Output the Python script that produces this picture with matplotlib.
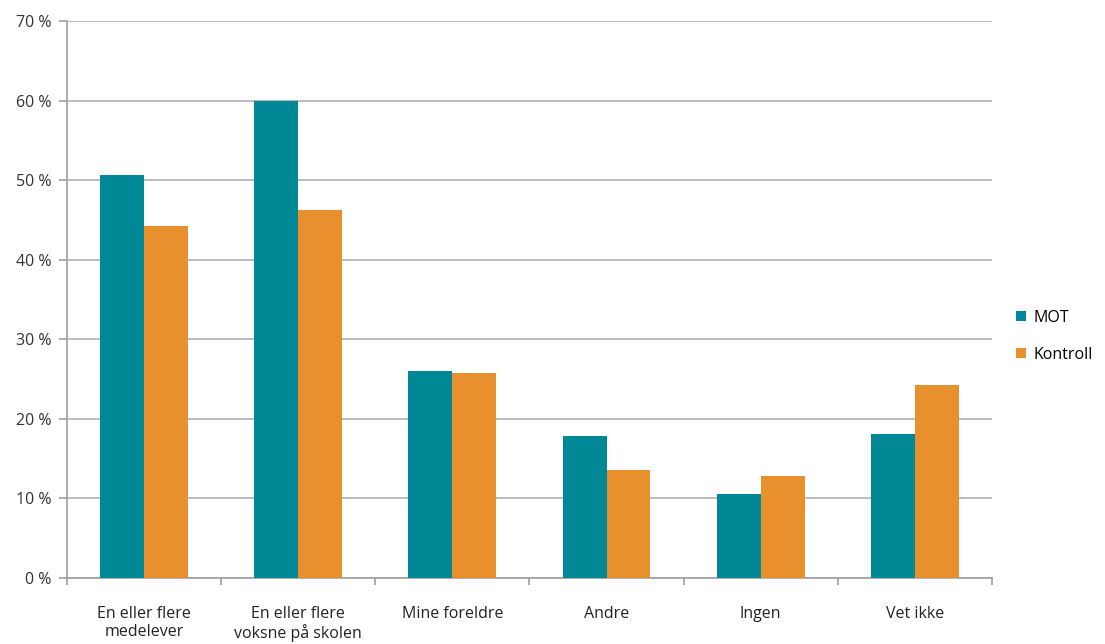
import matplotlib.pyplot as plt
import numpy as np
from matplotlib.ticker import FuncFormatter

categories = ['En eller flere\nmedelever', 'En eller flere\nvoksne på skolen',
              'Mine foreldre', 'Andre', 'Ingen', 'Vet ikke']
mot = [50.6, 60.0, 26.0, 17.8, 10.5, 18.1]
kontroll = [44.2, 46.2, 25.7, 13.6, 12.8, 24.2]

plt.rcParams['font.family'] = ['Open Sans', 'DejaVu Sans']

fig = plt.figure(figsize=(11.05, 6.44), dpi=100)
ax = fig.add_axes([0.0606, 0.1025, 0.8371, 0.8649])

x = np.arange(len(categories))
w = 0.285
ax.bar(x - w / 2, mot, w, color='#008896', label='MOT', zorder=3)
ax.bar(x + w / 2, kontroll, w, color='#E8902E', label='Kontroll', zorder=3)

ax.set_xlim(-0.5, len(categories) - 0.5)
ax.set_ylim(0, 70)
ax.set_yticks(np.arange(0, 71, 10))
ax.yaxis.set_major_formatter(FuncFormatter(lambda v, p: f'{int(v)} %'))
ax.grid(axis='y', color='#b0b0b0', linewidth=1.2, zorder=0)

ax.set_xticks(x)
ax.set_xticklabels(categories, linespacing=1.15)
ax.set_xticks(np.arange(-0.5, len(categories), 1), minor=True)
ax.tick_params(axis='x', which='major', length=0, pad=20, labelsize=11.5, colors='#222222')
ax.tick_params(axis='x', which='minor', length=5, color='#a0a0a0', width=1.2)
ax.tick_params(axis='y', length=6, color='#a0a0a0', width=1.2, labelsize=11.5,
               labelcolor='#333333', pad=5)

for s in ['top', 'right']:
    ax.spines[s].set_visible(False)
for s in ['left', 'bottom']:
    ax.spines[s].set_color('#a0a0a0')
    ax.spines[s].set_linewidth(1.2)

ax.legend(loc='center left', bbox_to_anchor=(1.026, 0.434), frameon=False,
          handlelength=0.6, handleheight=0.6, labelspacing=1.3, fontsize=11.5,
          handletextpad=0.5, borderaxespad=0, borderpad=0)

fig.savefig('out.png', dpi=100)
